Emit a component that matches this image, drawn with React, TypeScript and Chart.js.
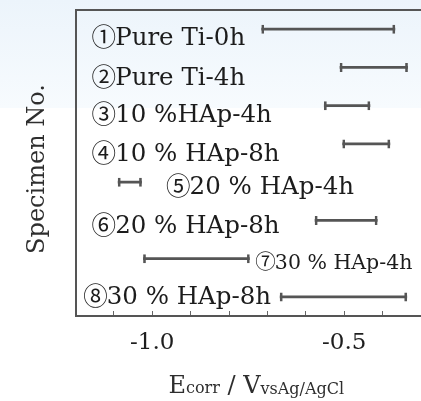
import { useEffect, useRef } from 'react';
import { Chart, registerables } from 'chart.js';

Chart.register(...registerables);

// ---- data ----
const specimens = [
  '①Pure Ti-0h',
  '②Pure Ti-4h',
  '③10 %HAp-4h',
  '④10 % HAp-8h',
  '⑤20 % HAp-4h',
  '⑥20 % HAp-8h',
  '⑦30 % HAp-4h',
  '⑧30 % HAp-8h',
];
const ecorrLow = [-0.715, -0.511, -0.552, -0.504, -1.089, -0.576, -1.023, -0.667];
const ecorrHigh = [-0.368, -0.335, -0.433, -0.381, -1.028, -0.414, -0.747, -0.337];
const tickValues = [-1.0, -0.5];
const tickLabels = ['-1.0', '-0.5'];

// ---- label annotation placement (data-x, pixel offset from category centre) ----
const labelX = [-1.158, -1.158, -1.158, -1.158, -0.964, -1.158, -0.732, -1.18];
const labelDy = [16, 17.5, 16.5, 17.5, 12, 12.5, 10, 7.5];
const labelSize = [24.5, 24.5, 24.5, 24.5, 24.5, 24.5, 20.5, 24.5];

const SERIF = '"DejaVu Serif", serif';
const CIRCLE = '"Noto Sans CJK JP", "DejaVu Sans", sans-serif';

export default function App() {
  const ref = useRef<HTMLCanvasElement | null>(null);

  useEffect(() => {
    const canvas = ref.current;
    if (!canvas) return;
    const pairs = ecorrLow.map((lo, i) => [lo, ecorrHigh[i]]);

    const bgPlugin = {
      id: 'bg',
      beforeDraw(chart: any) {
        const { ctx, width, height } = chart;
        ctx.save();
        const g = ctx.createLinearGradient(0, 0, 0, 108);
        g.addColorStop(0, '#ecf4fb');
        g.addColorStop(1, '#f7fbfe');
        ctx.fillStyle = '#ffffff';
        ctx.fillRect(0, 0, width, height);
        ctx.fillStyle = g;
        ctx.fillRect(0, 0, width, 108);
        ctx.restore();
      },
    };

    const textPlugin = {
      id: 'texts',
      afterDraw(chart: any) {
        const { ctx, chartArea } = chart;
        const xs = chart.scales.x;
        const ys = chart.scales.y;
        ctx.save();
        ctx.fillStyle = '#1c1c1c';
        ctx.textAlign = 'left';
        ctx.textBaseline = 'alphabetic';
        specimens.forEach((s, i) => {
          const sz = labelSize[i];
          let x = xs.getPixelForValue(labelX[i]);
          const y = ys.getPixelForValue(i) + labelDy[i];
          const circ = s.charAt(0);
          const rest = s.slice(1);
          ctx.font = `${sz}px ${CIRCLE}`;
          ctx.fillText(circ, x, y + sz * 0.04);
          x += ctx.measureText(circ).width - sz * 0.04;
          ctx.font = `${sz}px ${SERIF}`;
          ctx.fillText(rest, x, y);
        });

        // y title
        ctx.save();
        ctx.fillStyle = '#2e2e2e';
        ctx.font = `24px ${SERIF}`;
        ctx.textAlign = 'center';
        ctx.translate(43.5, (chartArea.top + chartArea.bottom) / 2 + 6);
        ctx.rotate(-Math.PI / 2);
        ctx.fillText('Specimen No.', 0, 0);
        ctx.restore();

        // x title with subscripts
        const parts = [
          { t: 'E', s: 24, dy: 0 },
          { t: 'corr', s: 16, dy: 0 },
          { t: ' / ', s: 24, dy: 0 },
          { t: 'V', s: 24, dy: 0 },
          { t: 'vsAg/AgCl', s: 16, dy: 1 },
        ];
        let total = 0;
        const widths = parts.map((p) => {
          ctx.font = `${p.s}px ${SERIF}`;
          const w = ctx.measureText(p.t).width;
          total += w;
          return w;
        });
        let x = (chartArea.left + chartArea.right) / 2 + 8 - total / 2;
        const base = 393;
        ctx.fillStyle = '#2e2e2e';
        ctx.textAlign = 'left';
        parts.forEach((p, i) => {
          ctx.font = `${p.s}px ${SERIF}`;
          ctx.fillText(p.t, x, base + p.dy);
          x += widths[i];
        });
        ctx.restore();
      },
    };

    const chart = new Chart(canvas, {
      type: 'bar',
      data: {
        labels: specimens,
        datasets: [
          {
            data: pairs as any,
            barThickness: 9,
            backgroundColor: 'rgba(0,0,0,0)',
            borderColor: '#555555',
            borderWidth: { left: 2, right: 2, top: 0, bottom: 0 },
            borderSkipped: false,
            grouped: false,
          },
          {
            data: pairs as any,
            barThickness: 2,
            backgroundColor: '#555555',
            borderWidth: 0,
            grouped: false,
          },
        ],
      },
      options: {
        indexAxis: 'y',
        animation: false,
        responsive: false,
        devicePixelRatio: 1,
        layout: { padding: { top: 10, right: 0, left: 0, bottom: 0 } },
        plugins: { legend: { display: false }, tooltip: { enabled: false } },
        scales: {
          x: {
            type: 'linear',
            position: 'bottom',
            min: -1.2,
            max: -0.3,
            afterFit: (s: any) => {
              s.height = 85;
              s.paddingLeft = 0;
              s.paddingRight = 0;
            },
            afterBuildTicks: (s: any) => {
              const t = [];
              for (let k = -12; k <= -3; k++) t.push({ value: k / 10 });
              s.ticks = t;
            },
            ticks: {
              autoSkip: false,
              maxRotation: 0,
              padding: 18,
              color: '#1e1e1e',
              font: { family: SERIF, size: 23 },
              callback: (v: any) => {
                const idx = tickValues.findIndex((t) => Math.abs(t - Number(v)) < 1e-6);
                return idx >= 0 ? tickLabels[idx] : '';
              },
            },
            grid: {
              drawOnChartArea: false,
              drawTicks: true,
              tickLength: -5,
              color: '#666',
              lineWidth: 1,
            },
            border: { display: true, color: '#555', width: 2 },
          },
          xTop: {
            type: 'linear',
            axis: 'x',
            position: 'top',
            min: -1.2,
            max: -0.3,
            afterFit: (s: any) => {
              s.height = 0;
              s.paddingLeft = 0;
              s.paddingRight = 0;
            },
            ticks: { display: false },
            grid: { drawOnChartArea: false, drawTicks: false },
            border: { display: true, color: '#555', width: 2 },
          },
          y: {
            type: 'category',
            position: 'left',
            afterFit: (s: any) => {
              s.width = 75.5;
            },
            ticks: { display: false },
            grid: { drawOnChartArea: false, drawTicks: false },
            border: { display: true, color: '#555', width: 2 },
          },
        },
      } as any,
      plugins: [bgPlugin, textPlugin],
    });
    return () => chart.destroy();
  }, []);

  return (
    <div style={{ position: 'fixed', left: 0, top: 0, width: 421, height: 401 }}>
      <canvas ref={ref} width={421} height={401} style={{ display: 'block' }} />
    </div>
  );
}
